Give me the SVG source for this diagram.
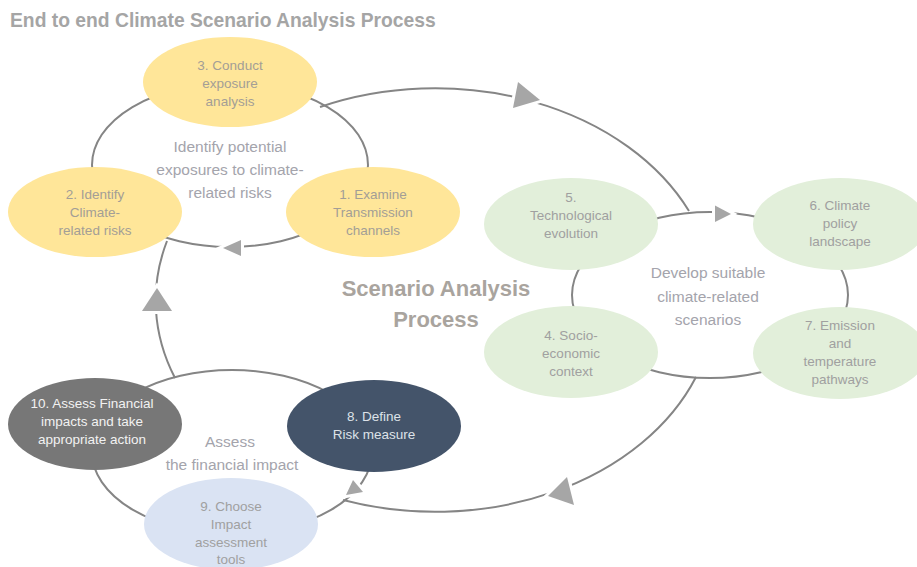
<svg xmlns="http://www.w3.org/2000/svg" width="917" height="567" viewBox="0 0 917 567">
<style>
  text { font-family: "Liberation Sans", Arial, sans-serif; text-anchor: middle; }
  .title { font-size: 19.3px; font-weight: bold; fill: #A5A5A5; text-anchor: start; }
  .big { font-size: 22px; font-weight: bold; fill: #A9A49E; }
  .center { font-size: 15.5px; fill: #A4A4AC; }
  .nt { font-size: 13.5px; }
  .yl { fill: #FFE699; }
  .gr { fill: #E2EFDA; }
  .bl { fill: #DAE3F3; }
  .ty { fill: #A39E96; }
  .tg { fill: #A0A0A0; }
  .line { fill: none; stroke: #858585; stroke-width: 2; }
  .arrow { fill: #A6A6A6; stroke: #FFFFFF; stroke-width: 6; stroke-linejoin: miter; paint-order: stroke; }
</style>
<rect width="917" height="567" fill="#FFFFFF"/>
<text class="title" x="10" y="27">End to end Climate Scenario Analysis Process</text>

<g id="connectors">
  <ellipse class="line" cx="230" cy="165" rx="138" ry="82"/>
  <ellipse class="line" cx="710" cy="295" rx="138" ry="83"/>
  <ellipse class="line" cx="232" cy="452" rx="140" ry="82"/>
  <path class="line" d="M320,107 A280,212 0 0 1 689,211"/>
  <path class="line" d="M696,377 A280,212 0 0 1 343,500"/>
  <path class="line" d="M175,378 A280,212 0 0 1 167,241"/>
  <polygon class="arrow" points="540,100 518,82 513,108"/>
  <polygon class="arrow" points="731,214 715,205.5 715,222"/>
  <polygon class="arrow" points="223,248 241,240 241,256"/>
  <polygon class="arrow" points="157,288 142,311 172,311"/>
  <polygon class="arrow" points="548,496 567,477 574,505"/>
  <polygon class="arrow" points="346,495 353,480 363,492"/>
</g>

<text class="center" x="230" y="152">Identify potential</text>
<text class="center" x="230" y="175">exposures to climate-</text>
<text class="center" x="230" y="198">related risks</text>
<text class="center" x="708" y="278">Develop suitable</text>
<text class="center" x="708" y="302">climate-related</text>
<text class="center" x="708" y="325">scenarios</text>
<text class="center" x="230" y="447">Assess</text>
<text class="center" x="232" y="470">the financial impact</text>
<text class="big" x="436" y="296">Scenario Analysis</text>
<text class="big" x="436" y="327">Process</text>

<g id="node3">
  <ellipse class="yl" cx="230" cy="82" rx="87" ry="45"/>
  <text class="nt ty" x="230" y="70">3. Conduct</text>
  <text class="nt ty" x="230" y="88">exposure</text>
  <text class="nt ty" x="230" y="106">analysis</text>
</g>
<g id="node2">
  <ellipse class="yl" cx="95" cy="212" rx="87" ry="45"/>
  <text class="nt ty" x="95" y="199">2. Identify</text>
  <text class="nt ty" x="95" y="217">Climate-</text>
  <text class="nt ty" x="95" y="235">related risks</text>
</g>
<g id="node1">
  <ellipse class="yl" cx="373" cy="212" rx="87" ry="45"/>
  <text class="nt ty" x="373" y="199">1. Examine</text>
  <text class="nt ty" x="373" y="217">Transmission</text>
  <text class="nt ty" x="373" y="235">channels</text>
</g>
<g id="node5">
  <ellipse class="gr" cx="571" cy="224" rx="87" ry="46"/>
  <text class="nt tg" x="571" y="202">5.</text>
  <text class="nt tg" x="571" y="220">Technological</text>
  <text class="nt tg" x="571" y="238">evolution</text>
</g>
<g id="node6">
  <ellipse class="gr" cx="840" cy="224" rx="87" ry="46"/>
  <text class="nt tg" x="840" y="210">6. Climate</text>
  <text class="nt tg" x="840" y="228">policy</text>
  <text class="nt tg" x="840" y="246">landscape</text>
</g>
<g id="node4">
  <ellipse class="gr" cx="571" cy="352" rx="87" ry="46"/>
  <text class="nt tg" x="571" y="340">4. Socio-</text>
  <text class="nt tg" x="571" y="358">economic</text>
  <text class="nt tg" x="571" y="376">context</text>
</g>
<g id="node7">
  <ellipse class="gr" cx="840" cy="353" rx="87" ry="46"/>
  <text class="nt tg" x="840" y="330">7. Emission</text>
  <text class="nt tg" x="840" y="348">and</text>
  <text class="nt tg" x="840" y="366">temperature</text>
  <text class="nt tg" x="840" y="384">pathways</text>
</g>
<g id="node10">
  <ellipse fill="#777777" cx="95" cy="424" rx="87" ry="46"/>
  <text class="nt" fill="#F2F2F2" x="92" y="408">10. Assess Financial</text>
  <text class="nt" fill="#F2F2F2" x="92" y="426">impacts and take</text>
  <text class="nt" fill="#F2F2F2" x="92" y="444">appropriate action</text>
</g>
<g id="node8">
  <ellipse fill="#44546A" cx="374" cy="426" rx="87" ry="46"/>
  <text class="nt" fill="#DDE2E8" x="374" y="421">8. Define</text>
  <text class="nt" fill="#DDE2E8" x="374" y="439">Risk measure</text>
</g>
<g id="node9">
  <ellipse class="bl" cx="231" cy="524" rx="87" ry="46"/>
  <text class="nt tg" x="231" y="511">9. Choose</text>
  <text class="nt tg" x="231" y="529">Impact</text>
  <text class="nt tg" x="231" y="547">assessment</text>
  <text class="nt tg" x="231" y="564">tools</text>
</g>
</svg>
